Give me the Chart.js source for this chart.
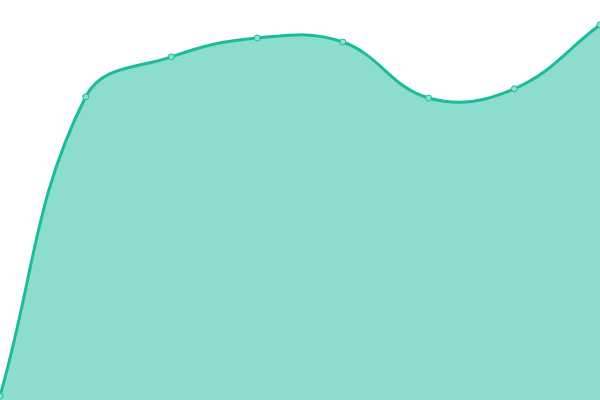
<!DOCTYPE html>
<html>
<head>
<meta charset="utf-8">
<script src="https://cdn.jsdelivr.net/npm/chart.js@4"></script>
<style>
  html, body { margin: 0; padding: 0; background: #fff; }
  div { width: 600px; height: 400px; }
</style>
</head>
<body>
<div><canvas id="chart"></canvas></div>
<script>
const labels = ['1', '2', '3', '4', '5', '6', '7', '8'];
const values = [1, 75.8, 85.8, 90.5, 89.5, 75.5, 77.8, 93.8];
const yMin = 0;
const yMax = 100;

const lineColor = '#1abc9c';
const fillColor = 'rgba(26, 188, 156, 0.5)';

new Chart(document.getElementById('chart'), {
  type: 'line',
  data: {
    labels: labels,
    datasets: [{
      data: values,
      borderColor: lineColor,
      backgroundColor: fillColor,
      pointBackgroundColor: '#8de0cd',
      pointBorderColor: lineColor,
      pointRadius: 3,
      pointBorderWidth: 1,
      borderWidth: 3,
      tension: 0.4,
      fill: true,
    }],
  },
  options: {
    responsive: true,
    maintainAspectRatio: false,
    animation: false,
    layout: { padding: 0, autoPadding: false },
    plugins: { legend: { display: false }, tooltip: { enabled: false } },
    scales: {
      x: { display: false },
      y: { display: false, min: yMin, max: yMax },
    },
  },
});
</script>
</body>
</html>
